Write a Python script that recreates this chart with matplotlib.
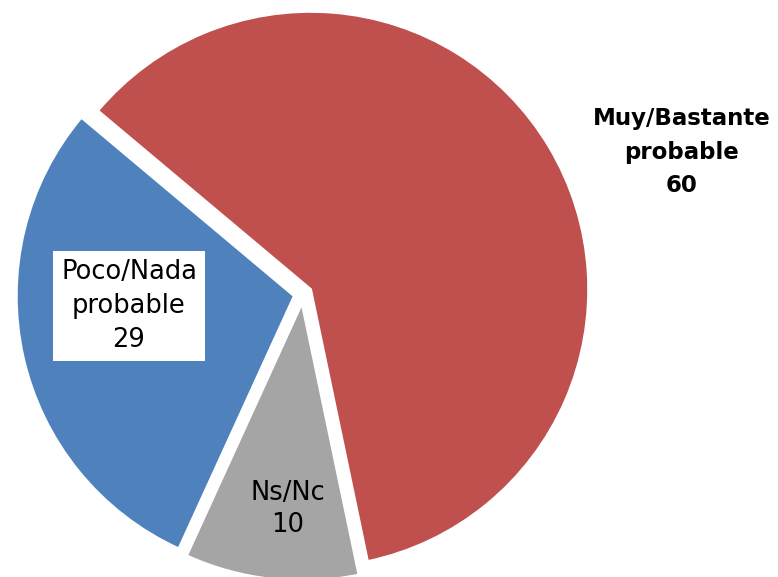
import matplotlib
matplotlib.use("Agg")
import matplotlib.pyplot as plt

# Data
categories = ["Muy/Bastante\nprobable", "Ns/Nc", "Poco/Nada\nprobable"]
values = [60, 10, 29]
colors = ["#C0504D", "#A5A5A5", "#4F81BD"]

W, H = 778, 577
cx, cy, R = 303, 294, 278  # pie centre / radius in pixels

fig = plt.figure(figsize=(W / 100, H / 100), dpi=100)
ax = fig.add_axes([0, 0, 1, 1])

wedges, _ = ax.pie(values, colors=colors, startangle=140, counterclock=False,
                   explode=[0.032] * len(values), radius=1.0,
                   wedgeprops=dict(edgecolor="white", linewidth=2))

ax.set_xlim(-cx / R, (W - cx) / R)
ax.set_ylim(-(H - cy) / R, cy / R)
ax.set_aspect("auto")
ax.axis("off")

# Labels (positions in figure pixels)
fig.text(682 / W, 1 - 152 / H, f"{categories[0]}\n{values[0]}", ha="center", va="center",
         fontsize=16.5, fontweight="bold", linespacing=1.6)
fig.text(129 / W, 1 - 306 / H, f"{categories[2]}\n{values[2]}", ha="center", va="center",
         fontsize=18.5, linespacing=1.38,
         bbox=dict(boxstyle="square,pad=0.33", fc="white", ec="none"))
fig.text(288 / W, 1 - 509 / H, f"{categories[1]}\n{values[1]}", ha="center", va="center",
         fontsize=18.5, linespacing=1.3)

fig.savefig("out.png", dpi=100)
